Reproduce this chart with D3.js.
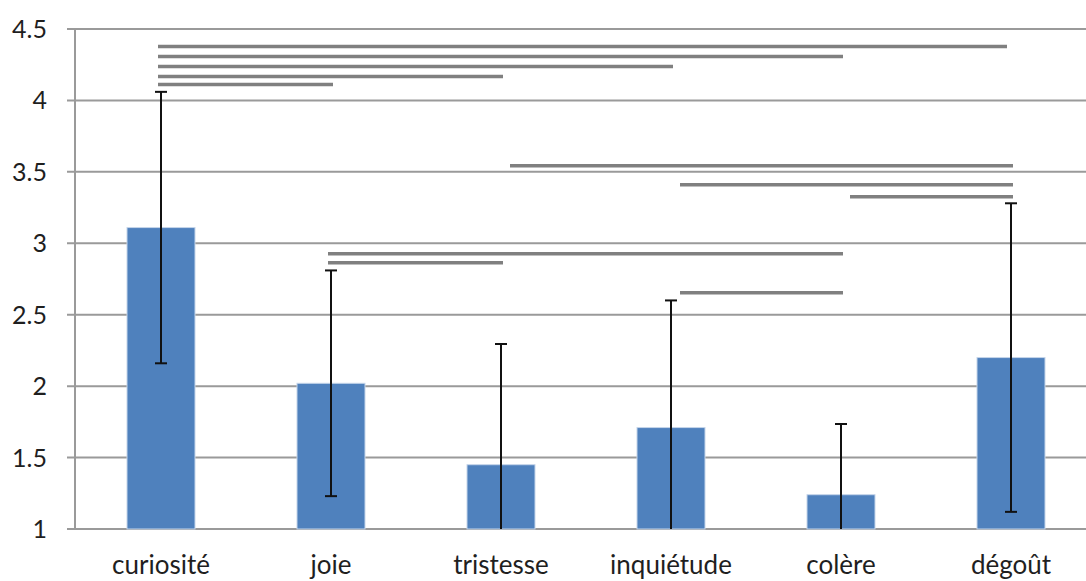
<!DOCTYPE html>
<html>
<head>
<meta charset="utf-8">
<script src="https://cdn.jsdelivr.net/npm/d3@7"></script>
<style>
  body { margin: 0; background: #fff; }
  text { font-family: Lato, "Open Sans", sans-serif; fill: #1f1f1f; }
</style>
</head>
<body>
<div id="chart-area"></div>
<script>
var categories = ["curiosité", "joie", "tristesse", "inquiétude", "colère", "dégoût"];
var means = [3.11, 2.02, 1.45, 1.71, 1.24, 2.20];
var sds = [0.95, 0.79, 0.845, 0.89, 0.495, 1.08];
var yTicks = [1, 1.5, 2, 2.5, 3, 3.5, 4, 4.5];

// significance brackets: [from, to, level]
var sigFrom  = ["curiosité", "curiosité", "curiosité", "curiosité", "curiosité", "tristesse", "inquiétude", "colère", "joie", "joie", "inquiétude"];
var sigTo    = ["dégoût", "colère", "inquiétude", "tristesse", "joie", "dégoût", "dégoût", "dégoût", "colère", "tristesse", "colère"];
var sigLevel = [4.378, 4.308, 4.238, 4.168, 4.112, 3.543, 3.41, 3.326, 2.927, 2.864, 2.654];

var width = 1086;
var height = 581;
var margin = {top: 29, left: 76, bottom: 52};

var svg = d3.select("#chart-area").append("svg")
    .attr("width", width)
    .attr("height", height);

var x = d3.scaleBand()
    .domain(categories)
    .range([margin.left, margin.left + 1020])
    .paddingInner(0.6)
    .paddingOuter(0.3);

var y = d3.scaleLinear()
    .domain([1, 4.5])
    .range([height - margin.bottom, margin.top]);

var cx = function(c) { return x(c) + x.bandwidth() / 2; };

// gridlines
svg.append("g")
    .selectAll("line")
    .data(yTicks)
    .enter()
    .append("line")
    .attr("x1", margin.left - 9)
    .attr("x2", width)
    .attr("y1", function(d) { return y(d); })
    .attr("y2", function(d) { return y(d); })
    .attr("stroke", "#9a9a9a")
    .attr("stroke-width", 2);

// y axis line
svg.append("line")
    .attr("x1", margin.left - 1).attr("x2", margin.left - 1)
    .attr("y1", y(4.5)).attr("y2", y(1))
    .attr("stroke", "#9a9a9a")
    .attr("stroke-width", 2);

// y tick labels
svg.append("g")
    .selectAll("text")
    .data(yTicks)
    .enter()
    .append("text")
    .attr("x", 47)
    .attr("y", function(d) { return y(d); })
    .attr("dy", "0.36em")
    .attr("text-anchor", "end")
    .attr("font-size", 25)
    .text(function(d) { return d; });

// bars
svg.append("g")
    .selectAll("rect")
    .data(categories)
    .enter()
    .append("rect")
    .attr("x", function(d) { return x(d); })
    .attr("width", x.bandwidth())
    .attr("y", function(d, i) { return y(means[i]); })
    .attr("height", function(d, i) { return y(1) - y(means[i]); })
    .attr("fill", "#4f81bd")
    .attr("stroke", "#c5d5ea")
    .attr("stroke-width", 1);

// error bars
var err = svg.append("g");
categories.forEach(function(c, i) {
    var hi = means[i] + sds[i];
    var lo = means[i] - sds[i];
    var loC = Math.max(lo, 1);
    err.append("line")
        .attr("x1", cx(c)).attr("x2", cx(c))
        .attr("y1", y(hi)).attr("y2", y(loC))
        .attr("stroke", "#111")
        .attr("stroke-width", 2);
    err.append("line")
        .attr("x1", cx(c) - 6).attr("x2", cx(c) + 6)
        .attr("y1", y(hi)).attr("y2", y(hi))
        .attr("stroke", "#111")
        .attr("stroke-width", 2);
    if (lo >= 1) {
        err.append("line")
            .attr("x1", cx(c) - 6).attr("x2", cx(c) + 6)
            .attr("y1", y(lo)).attr("y2", y(lo))
            .attr("stroke", "#111")
            .attr("stroke-width", 2);
    }
});

// significance lines (upper group starts just left of the bar, lower ones just right of it)
var sigStart = function(c) { return c === "curiosité" || c === "joie" ? cx(c) - 3 : cx(c) + 9; };
var sigEnd = function(from, to) { return from === "curiosité" && to === "dégoût" ? cx(to) - 4 : cx(to) + 2; };
svg.append("g")
    .selectAll("line")
    .data(sigLevel)
    .enter()
    .append("line")
    .attr("x1", function(d, i) { return sigStart(sigFrom[i]); })
    .attr("x2", function(d, i) { return sigEnd(sigFrom[i], sigTo[i]); })
    .attr("y1", function(d) { return y(d); })
    .attr("y2", function(d) { return y(d); })
    .attr("stroke", "#808080")
    .attr("stroke-width", 3.5);

// x labels
svg.append("g")
    .selectAll("text")
    .data(categories)
    .enter()
    .append("text")
    .attr("x", function(d) { return cx(d); })
    .attr("y", 574)
    .attr("text-anchor", "middle")
    .attr("font-size", 26)
    .text(function(d) { return d; });
</script>
</body>
</html>
